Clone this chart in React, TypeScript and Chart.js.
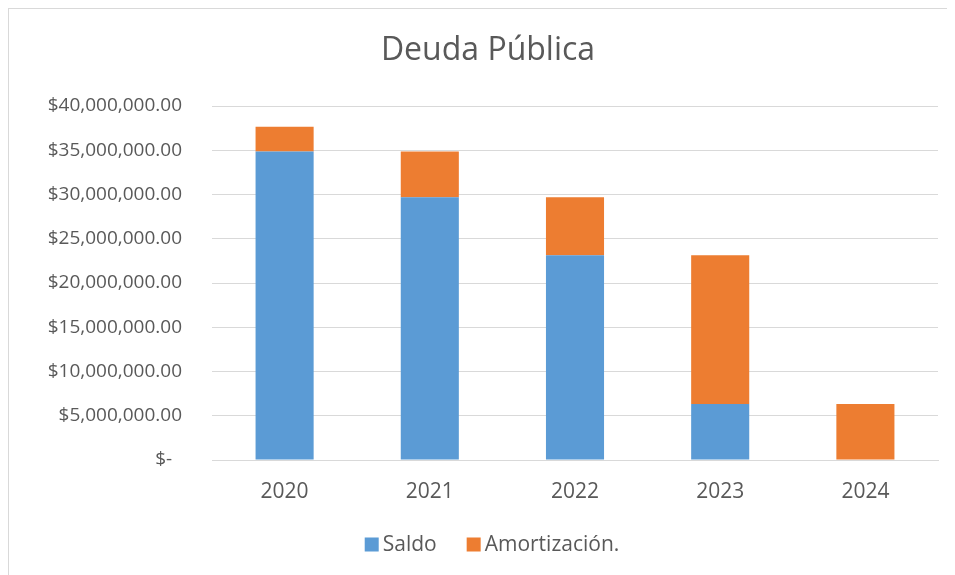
import React, { useEffect, useRef } from "react";
import { Chart, registerables } from "chart.js";

Chart.register(...registerables);

const years = ["2020", "2021", "2022", "2023", "2024"];
const saldo = [34850000, 29680000, 23130000, 6330000, 0];
const amortizacion = [2800000, 5170000, 6550000, 16800000, 6330000];
const yTicks = [0, 5000000, 10000000, 15000000, 20000000, 25000000, 30000000, 35000000, 40000000];

const FONT = "'Open Sans', 'Liberation Sans', sans-serif";
const TEXT = "#595959";

function fmt(v: number): string {
  if (v === 0) return "$-  ";
  return "$" + v.toLocaleString("en-US", { minimumFractionDigits: 2, maximumFractionDigits: 2 });
}

const legendPlugin = {
  id: "customLegend",
  afterDraw(chart: any) {
    const ctx = chart.ctx;
    ctx.save();
    ctx.font = `21px ${FONT}`;
    const box = 14, gap = 4, sep = 30;
    const items = chart.data.datasets.map((d: any) => ({
      text: d.label,
      color: d.backgroundColor,
      w: ctx.measureText(d.label).width,
    }));
    const total = items.reduce((s: number, it: any) => s + box + gap + it.w, 0) + sep * (items.length - 1);
    let x = chart.width / 2 - total / 2;
    const y = chart.height - 30.5;
    ctx.textBaseline = "middle";
    ctx.textAlign = "left";
    for (const it of items) {
      ctx.fillStyle = it.color;
      ctx.fillRect(x, y - box / 2, box, box);
      x += box + gap;
      ctx.fillStyle = TEXT;
      ctx.fillText(it.text, x, y + 1);
      x += it.w + sep;
    }
    ctx.restore();
  },
};

export default function App() {
  const ref = useRef<HTMLCanvasElement>(null);
  useEffect(() => {
    if (!ref.current) return;
    const chart = new Chart(ref.current, {
      type: "bar",
      data: {
        labels: years,
        datasets: [
          { label: "Saldo", data: saldo, backgroundColor: "#5B9BD5", barPercentage: 0.4, categoryPercentage: 1 },
          { label: "Amortización.", data: amortizacion, backgroundColor: "#ED7D31", barPercentage: 0.4, categoryPercentage: 1 },
        ],
      },
      plugins: [legendPlugin],
      options: {
        animation: false,
        responsive: false,
        maintainAspectRatio: false,
        layout: { padding: { left: 29, right: 37, top: 13, bottom: 70 } },
        plugins: {
          title: {
            display: true,
            text: "Deuda Pública",
            color: TEXT,
            font: { family: FONT, size: 32, weight: "normal" },
            padding: { top: 10, bottom: 35.6 },
          },
          legend: { display: false },
          tooltip: { enabled: false },
        },
        scales: {
          x: {
            stacked: true,
            grid: { display: false, drawTicks: false },
            border: { display: true, color: "#d9d9d9" },
            ticks: { color: TEXT, font: { family: FONT, size: 21 }, padding: 19.4 },
            afterFit: (scale: any) => {
              scale.height = 45;
            },
          },
          y: {
            stacked: true,
            min: 0,
            max: 40000000,
            afterBuildTicks: (scale: any) => {
              scale.ticks = yTicks.map((v) => ({ value: v }));
            },
            afterFit: (scale: any) => {
              scale.width = 174;
            },
            grid: { color: "#d9d9d9", drawTicks: false },
            border: { display: false },
            ticks: {
              color: TEXT,
              font: { family: FONT, size: 19 },
              padding: 30,
              callback: (v: any) => fmt(Number(v)),
            },
          },
        },
      },
    });
    return () => chart.destroy();
  }, []);
  return (
    <div style={{ width: 939, height: 567, overflow: "hidden" }}>
      <div
        style={{
          width: 967,
          height: 567,
          borderLeft: "1px solid #d9d9d9",
          borderTop: "1px solid #d9d9d9",
          boxSizing: "border-box",
          background: "#fff",
        }}
      >
        <canvas ref={ref} width={966} height={566} style={{ display: "block" }} />
      </div>
    </div>
  );
}
